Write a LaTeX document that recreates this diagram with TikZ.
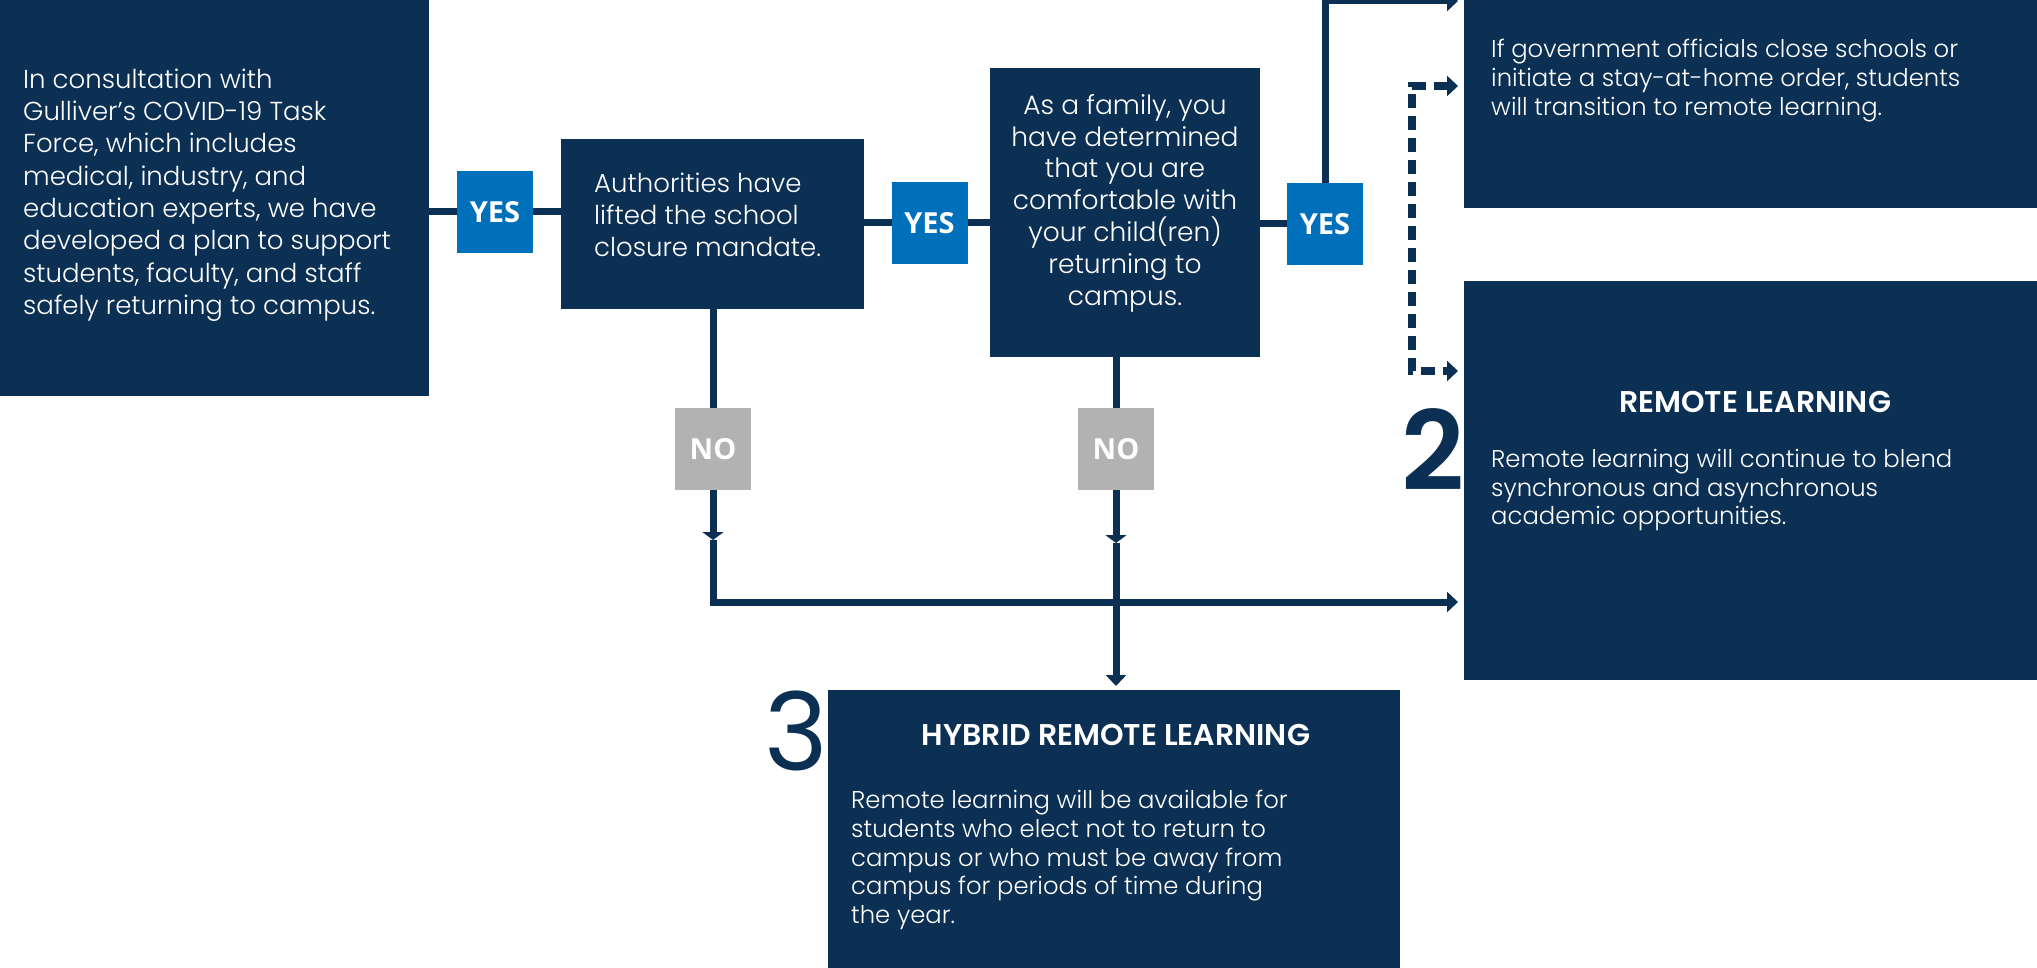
\documentclass[tikz,border=0pt]{standalone}
\usepackage{fontspec}
\setmainfont{Poppins Light}[BoldFont={Poppins SemiBold}]
\newfontfamily\labfont{Open Sans}
\newfontfamily\numfont{Poppins}
\usetikzlibrary{arrows.meta}
\definecolor{navy}{RGB}{12,48,84}
\definecolor{yesblue}{RGB}{0,112,187}
\definecolor{nogrey}{RGB}{178,178,178}
\begin{document}
\begin{tikzpicture}[x=1pt,y=-1pt,
  box/.style={fill=navy, draw=none, inner sep=0pt, outer sep=0pt},
  yesbox/.style={fill=yesblue, inner sep=0pt, outer sep=0pt, minimum width=76pt, minimum height=82pt, text=white, font=\labfont\bfseries\fontsize{29}{30}\selectfont},
  nobox/.style={fill=nogrey, inner sep=0pt, outer sep=0pt, minimum width=76pt, minimum height=82pt, text=white, font=\labfont\bfseries\fontsize{29}{30}\selectfont},
  conn/.style={draw=navy, line width=7pt, line join=miter},
  tipend/.style={-{Triangle[width=20pt,length=11pt]}},
  midtip/.style={-{Triangle[width=21pt,length=8pt]}},
  dashconn/.style={draw=navy, line width=8pt, dash pattern=on 14pt off 8pt, {Triangle[width=20pt,length=11pt]}-{Triangle[width=20pt,length=11pt]}},
  bodytext/.style={text=white, inner sep=0pt, align=left, font=\fontsize{26}{32.3}\selectfont},
  centertext/.style={text=white, inner sep=0pt, align=center, font=\fontsize{26.5}{31.8}\selectfont},
  smalltext/.style={text=white, inner sep=0pt, align=left, font=\fontsize{24.3}{28.6}\selectfont},
  titletext/.style={text=white, inner sep=0pt, font=\bfseries\fontsize{30}{32}\selectfont},
  bignum/.style={text=navy, inner sep=0pt, font=\bfseries\fontsize{110}{112}\selectfont}
]
\useasboundingbox (0,0) rectangle (2037,968);

% boxes
\node[box, minimum width=429pt, minimum height=396pt] (lb) at (214.5,198) {};
\node[box, minimum width=303pt, minimum height=170pt] (b2) at (712.5,224) {};
\node[box, minimum width=270pt, minimum height=289pt] (b3) at (1125,212.5) {};
\node[box, minimum width=573pt, minimum height=208pt] (tr) at (1750.5,104) {};
\node[box, minimum width=573pt, minimum height=399pt] (rl) at (1750.5,480.5) {};
\node[box, minimum width=572pt, minimum height=278pt] (hy) at (1114,829) {};

% decision labels
\node[yesbox] (yes1) at (495,212) {YES};
\node[yesbox] (yes2) at (929.5,223) {YES};
\node[yesbox] (yes3) at (1325,224) {YES};
\node[nobox] (no1) at (713,449) {NO};
\node[nobox] (no2) at (1116,449) {NO};

% free ends
\coordinate (toptip) at (1458,1);
\coordinate (dtop) at (1458,86);
\coordinate (dbot) at (1458,371);
\coordinate (dx) at (1412,0);
\coordinate (m1) at (713,540);
\coordinate (m2) at (1116,543);
\coordinate (rltip) at (1458,602);
\coordinate (hytip) at (1116,686);

% connectors
\draw[conn] (yes1.west -| lb.east) -- (yes1.west);
\draw[conn] (yes1.east) -- (yes1.east -| b2.west);
\draw[conn] (yes2.west -| b2.east) -- (yes2.west);
\draw[conn] (yes2.east) -- (yes2.east -| b3.west);
\draw[conn] (yes3.west -| b3.east) -- (yes3.west);
\draw[conn, tipend] (yes3.north) |- (toptip);
\draw[dashconn] (dtop) -- (dtop -| dx) -- (dbot -| dx) -- (dbot);
\draw[conn] (no1.north |- b2.south) -- (no1.north);
\draw[conn, midtip] (no1.south) -- (m1);
\draw[conn, tipend] (m1) |- (rltip);
\draw[conn] (no2.north |- b3.south) -- (no2.north);
\draw[conn, midtip] (no2.south) -- (m2);
\draw[conn, tipend] (m2) -- (hytip);

% texts
\node[bodytext, anchor=west] (lbt) at (23,195) {In consultation with\\Gulliver’s COVID-19 Task\\Force, which includes\\medical, industry, and\\education experts, we have\\developed a plan to support\\students, faculty, and staff\\safely returning to campus.};
\node[bodytext, anchor=west] (b2t) at (594,215) {Authorities have\\lifted the school\\closure mandate.};
\node[centertext] (b3t) at (1125,203) {As a family, you\\have determined\\that you are\\comfortable with\\your child(ren)\\returning to\\campus.};
\node[smalltext, anchor=west] (trt) at (1491,80.5) {If government officials close schools or\\initiate a stay-at-home order, students\\will transition to remote learning.};
\node[titletext] (rlh) at (1755,402) {REMOTE LEARNING};
\node[smalltext, anchor=west] (rlt) at (1491,490) {Remote learning will continue to blend\\synchronous and asynchronous\\academic opportunities.};
\node[titletext] (hyh) at (1116,735) {HYBRID REMOTE LEARNING};
\node[smalltext, anchor=west] (hyt) at (851,860) {Remote learning will be available for\\students who elect not to return to\\campus or who must be away from\\campus for periods of time during\\the year.};
\node[bignum, anchor=base east] (n2) at (1465,490) {2};
\node[bignum, anchor=base east, font=\numfont\fontsize{108}{110}\selectfont] (n3) at (828,770) {3};
\end{tikzpicture}
\end{document}
